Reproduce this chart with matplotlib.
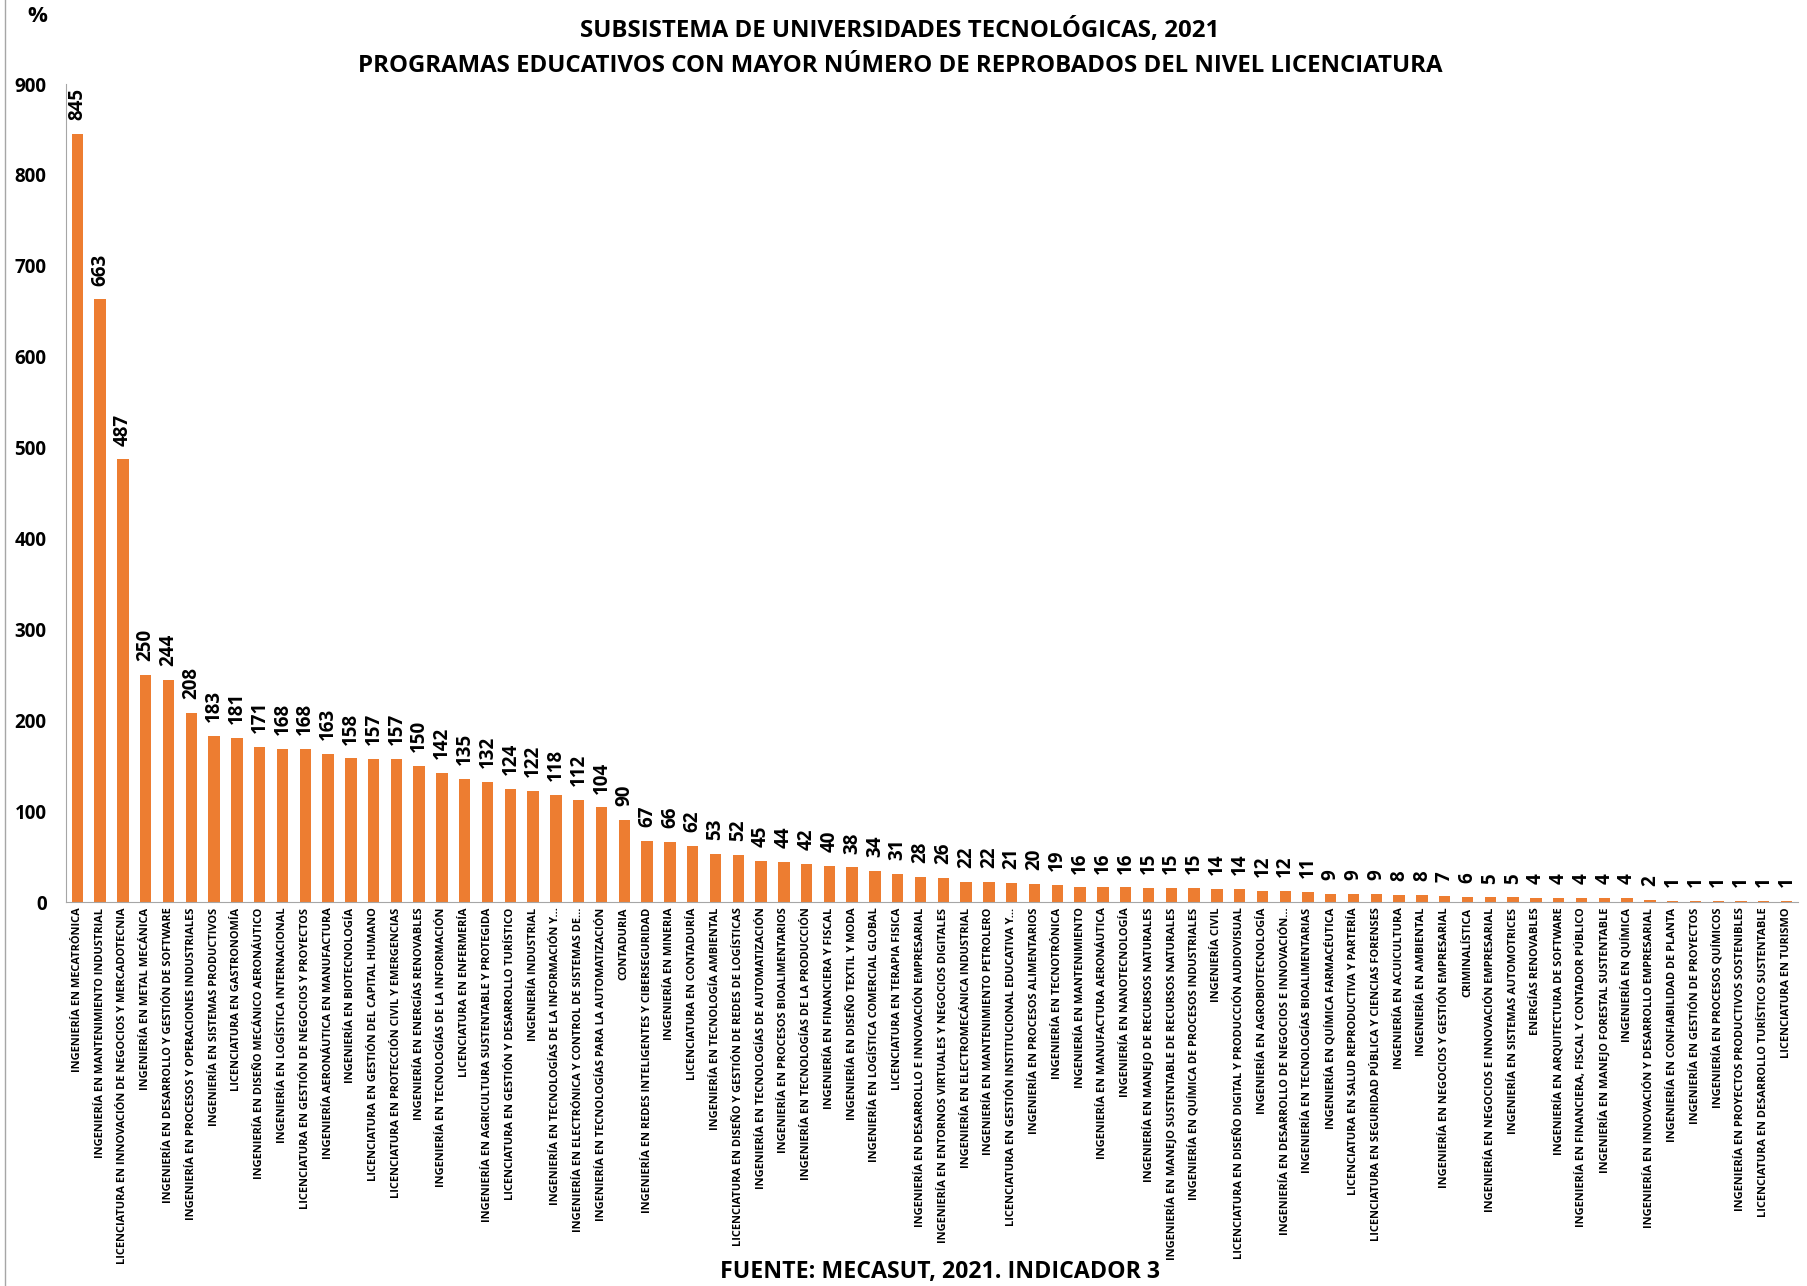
import matplotlib
matplotlib.use("Agg")
import matplotlib.pyplot as plt
import numpy as np

programas = [
    "INGENIERÍA EN MECATRÓNICA",
    "INGENIERÍA EN MANTENIMIENTO INDUSTRIAL",
    "LICENCIATURA EN INNOVACIÓN DE NEGOCIOS Y MERCADOTECNIA",
    "INGENIERÍA EN METAL MECÁNICA",
    "INGENIERÍA EN DESARROLLO Y GESTIÓN DE SOFTWARE",
    "INGENIERÍA EN PROCESOS Y OPERACIONES INDUSTRIALES",
    "INGENIERÍA EN SISTEMAS PRODUCTIVOS",
    "LICENCIATURA EN GASTRONOMÍA",
    "INGENIERÍA EN DISEÑO MECÁNICO AERONÁUTICO",
    "INGENIERÍA EN LOGÍSTICA INTERNACIONAL",
    "LICENCIATURA EN GESTIÓN DE NEGOCIOS Y PROYECTOS",
    "INGENIERÍA AERONÁUTICA EN MANUFACTURA",
    "INGENIERÍA EN BIOTECNOLOGÍA",
    "LICENCIATURA EN GESTIÓN DEL CAPITAL HUMANO",
    "LICENCIATURA EN PROTECCIÓN CIVIL Y EMERGENCIAS",
    "INGENIERÍA EN ENERGÍAS RENOVABLES",
    "INGENIERÍA EN TECNOLOGÍAS DE LA INFORMACIÓN",
    "LICENCIATURA EN ENFERMERÍA",
    "INGENIERÍA EN AGRICULTURA SUSTENTABLE Y PROTEGIDA",
    "LICENCIATURA EN GESTIÓN Y DESARROLLO TURÍSTICO",
    "INGENIERÍA INDUSTRIAL",
    "INGENIERÍA EN TECNOLOGÍAS DE LA INFORMACIÓN Y...",
    "INGENIERÍA EN ELECTRÓNICA Y CONTROL DE SISTEMAS DE...",
    "INGENIERÍA EN TECNOLOGÍAS PARA LA AUTOMATIZACIÓN",
    "CONTADURIA",
    "INGENIERÍA EN REDES INTELIGENTES Y CIBERSEGURIDAD",
    "INGENIERÍA EN MINERIA",
    "LICENCIATURA EN CONTADURÍA",
    "INGENIERÍA EN TECNOLOGÍA AMBIENTAL",
    "LICENCIATURA EN DISEÑO Y GESTIÓN DE REDES DE LOGÍSTICAS",
    "INGENIERÍA EN TECNOLOGÍAS DE AUTOMATIZACIÓN",
    "INGENIERÍA EN PROCESOS BIOALIMENTARIOS",
    "INGENIERÍA EN TECNOLOGÍAS DE LA PRODUCCIÓN",
    "INGENIERÍA EN FINANCIERA Y FISCAL",
    "INGENIERÍA EN DISEÑO TEXTIL Y MODA",
    "INGENIERÍA EN LOGÍSTICA COMERCIAL GLOBAL",
    "LICENCIATURA EN TERAPIA FISICA",
    "INGENIERÍA EN DESARROLLO E INNOVACIÓN EMPRESARIAL",
    "INGENIERÍA EN ENTORNOS VIRTUALES Y NEGOCIOS DIGITALES",
    "INGENIERÍA EN ELECTROMECÁNICA INDUSTRIAL",
    "INGENIERÍA EN MANTENIMIENTO PETROLERO",
    "LICENCIATURA EN GESTIÓN INSTITUCIONAL EDUCATIVA Y...",
    "INGENIERÍA EN PROCESOS ALIMENTARIOS",
    "INGENIERÍA EN TECNOTRÓNICA",
    "INGENIERÍA EN MANTENIMIENTO",
    "INGENIERÍA EN MANUFACTURA AERONÁUTICA",
    "INGENIERÍA EN NANOTECNOLOGÍA",
    "INGENIERÍA EN MANEJO DE RECURSOS NATURALES",
    "INGENIERÍA EN MANEJO SUSTENTABLE DE RECURSOS NATURALES",
    "INGENIERÍA EN QUÍMICA DE PROCESOS INDUSTRIALES",
    "INGENIERÍA CIVIL",
    "LICENCIATURA EN DISEÑO DIGITAL Y PRODUCCIÓN AUDIOVISUAL",
    "INGENIERÍA EN AGROBIOTECNOLOGÍA",
    "INGENIERÍA EN DESARROLLO DE NEGOCIOS E INNOVACIÓN...",
    "INGENIERÍA EN TECNOLOGÍAS BIOALIMENTARIAS",
    "INGENIERÍA EN QUÍMICA FARMACÉUTICA",
    "LICENCIATURA EN SALUD REPRODUCTIVA Y PARTERÍA",
    "LICENCIATURA EN SEGURIDAD PÚBLICA Y CIENCIAS FORENSES",
    "INGENIERÍA EN ACUICULTURA",
    "INGENIERÍA EN AMBIENTAL",
    "INGENIERÍA EN NEGOCIOS Y GESTIÓN EMPRESARIAL",
    "CRIMINALÍSTICA",
    "INGENIERÍA EN NEGOCIOS E INNOVACIÓN EMPRESARIAL",
    "INGENIERÍA EN SISTEMAS AUTOMOTRICES",
    "ENERGÍAS RENOVABLES",
    "INGENIERÍA EN ARQUITECTURA DE SOFTWARE",
    "INGENIERÍA EN FINANCIERA, FISCAL Y CONTADOR PÚBLICO",
    "INGENIERÍA EN MANEJO FORESTAL SUSTENTABLE",
    "INGENIERÍA EN QUÍMICA",
    "INGENIERÍA EN INNOVACIÓN Y DESARROLLO EMPRESARIAL",
    "INGENIERÍA EN CONFIABILIDAD DE PLANTA",
    "INGENIERÍA EN GESTIÓN DE PROYECTOS",
    "INGENIERÍA EN PROCESOS QUÍMICOS",
    "INGENIERÍA EN PROYECTOS PRODUCTIVOS SOSTENIBLES",
    "LICENCIATURA EN DESARROLLO TURÍSTICO SUSTENTABLE",
    "LICENCIATURA EN TURISMO",
]

reprobados = [845, 663, 487, 250, 244, 208, 183, 181, 171, 168,
              168, 163, 158, 157, 157, 150, 142, 135, 132, 124,
              122, 118, 112, 104, 90, 67, 66, 62, 53, 52,
              45, 44, 42, 40, 38, 34, 31, 28, 26, 22,
              22, 21, 20, 19, 16, 16, 16, 15, 15, 15,
              14, 14, 12, 12, 11, 9, 9, 9, 8, 8,
              7, 6, 5, 5, 4, 4, 4, 4, 4, 2,
              1, 1, 1, 1, 1, 1]

y_ticks = [0, 100, 200, 300, 400, 500, 600, 700, 800, 900]

plt.rcParams['font.family'] = ['Open Sans', 'DejaVu Sans']

fig = plt.figure(figsize=(18.07, 12.86), dpi=100)
ax = fig.add_axes([0.0365, 0.2986, 0.9585, 0.636])

x = np.arange(len(programas))
bars = ax.bar(x, reprobados, 0.5, color="#ED7D31")

# etiquetas de valor encima de cada barra
for xi, v in zip(x, reprobados):
    ax.annotate(str(v), (xi, v), xytext=(0, 10), textcoords="offset points",
                rotation=90, ha="center", va="bottom",
                fontsize=13.5, fontweight="bold")

ax.set_xlim(-0.5, len(programas) - 0.5)
ax.set_ylim(0, 900)
ax.set_yticks(y_ticks)
ax.set_yticklabels([str(t) for t in y_ticks], fontsize=13.5, fontweight="bold")
ax.set_xticks(x)
ax.set_xticklabels(programas, rotation=90, fontsize=7.9, fontweight="bold")
ax.tick_params(axis="both", length=0)
ax.tick_params(axis="y", pad=14)
ax.tick_params(axis="x", pad=4)

for s in ["top", "right"]:
    ax.spines[s].set_visible(False)
ax.spines["left"].set_color("#a6a6a6")
ax.spines["bottom"].set_color("#a6a6a6")

fig.text(0.498, 0.976, "SUBSISTEMA DE UNIVERSIDADES TECNOLÓGICAS, 2021",
         ha="center", va="center", fontsize=17.3, fontweight="bold")
fig.text(0.498, 0.949, "PROGRAMAS EDUCATIVOS CON MAYOR NÚMERO DE REPROBADOS DEL NIVEL LICENCIATURA",
         ha="center", va="center", fontsize=17.3, fontweight="bold")
fig.text(0.0205, 0.987, "%", ha="center", va="center", fontsize=16, fontweight="bold")
fig.text(0.52, 0.0105, "FUENTE: MECASUT, 2021. INDICADOR 3",
         ha="center", va="center", fontsize=16.7, fontweight="bold")

fig.add_artist(plt.Line2D([0.003, 0.003], [0, 1], color="#a6a6a6", lw=1,
                          transform=fig.transFigure))

fig.savefig("out.png", dpi=100)
